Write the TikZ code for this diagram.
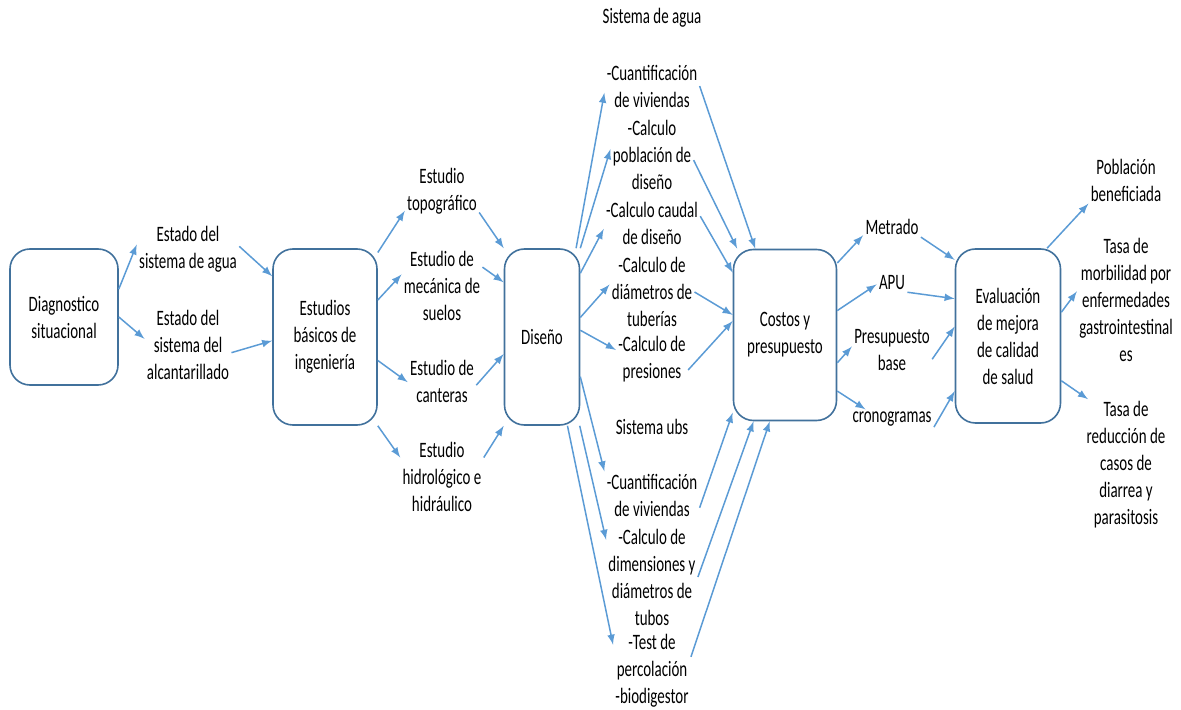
\documentclass[tikz,border=0pt]{standalone}
\usepackage{fontspec}
\setmainfont{Carlito}[FakeStretch=0.68]
\usetikzlibrary{arrows,positioning}
\definecolor{boxblue}{RGB}{65,113,156}
\definecolor{arrowblue}{RGB}{91,155,213}

\begin{document}
\begin{tikzpicture}[x=0.5pt,y=-0.5pt]
    \tikzset{
        box/.style = {rectangle, draw=boxblue, fill=white, line width=0.8pt, rounded corners=10pt, align=center, font=\fontsize{11}{13.5}\selectfont},
        txt/.style = {align=center, inner sep=1pt, font=\fontsize{11}{13.5}\selectfont},
        line/.style = {draw=arrowblue, line width=0.75pt, -latex},
    }
    \useasboundingbox (0,0) rectangle (1181,710);

    \node[box, minimum width=54pt, minimum height=68pt](diag) at (64,317){Diagnostico\\situacional};

    \node[txt](ea) at (188,249){Estado del\\sistema de agua};

    \node[txt](ealc) at (188,345){Estado del\\sistema del\\alcantarillado};

    \node[box, minimum width=52pt, minimum height=88pt](est) at (325,337){Estudios\\básicos de\\ingeniería};

    \node[txt](topo) at (442,191){Estudio\\topográfico};

    \node[txt](meca) at (442,286){Estudio de\\mecánica de\\suelos};

    \node[txt](cant) at (442,381){Estudio de\\canteras};

    \node[txt](hidro) at (442,477){Estudio\\hidrológico e\\hidráulico};

    \node[box, minimum width=37.5pt, minimum height=88pt](dis) at (542,337){Diseño};

    \node[txt](sagua) at (652,18){Sistema de agua};

    \node[txt](cva) at (652,86){-Cuantificación\\de viviendas};

    \node[txt](pob) at (652,155){-Calculo\\población de\\diseño};

    \node[txt](cau) at (652,223){-Calculo caudal\\de diseño};

    \node[txt](dia) at (652,292){-Calculo de\\diámetros de\\tuberías};

    \node[txt](pre) at (652,359){-Calculo de\\presiones};

    \node[txt](subs) at (652,427){Sistema ubs};

    \node[txt](cvb) at (652,495){-Cuantificación\\de viviendas};

    \node[txt](dim) at (652,577){-Calculo de\\dimensiones y\\diámetros de\\tubos};

    \node[txt](test) at (652,671){-Test de\\percolación\\-biodigestor};

    \node[box, minimum width=51.5pt, minimum height=85.5pt](cos) at (785,335){Costos y\\presupuesto};

    \node[txt](met) at (892,227){Metrado};

    \node[txt](apu) at (892,283){APU};

    \node[txt](pres) at (892,350){Presupuesto\\base};

    \node[txt](cron) at (892,419){cronogramas};

    \node[box, minimum width=52.5pt, minimum height=87pt](eva) at (1008,336){Evaluación\\de mejora\\de calidad\\de salud};

    \node[txt](pobb) at (1126,180){Población\\beneficiada};

    \node[txt](morb) at (1126,300){Tasa de\\morbilidad por\\enfermedades\\gastrointestinal\\es};

    \node[txt](red) at (1126,465){Tasa de\\reducción de\\casos de\\diarrea y\\parasitosis};

    \path [line] (diag.27) -- (ea.175);
    \path [line] (diag.east) -- (ealc.172);
    \path [line] (ea.3) -- (est.131);
    \path [line] (ealc.-10) -- (est.184);

    \path [line] (est.58) -- (topo.208);
    \path [line] (est.35) -- (meca.164);
    \path [line] (est.-24) -- (cant.182);
    \path [line] (est.south east) -- (hidro.155);
    \path [line] (topo.-30) -- (dis.north west);
    \path [line] (meca.25) -- (dis.125);
    \path [line] (cant.-7) -- (dis.204);
    \path [line] (hidro.25) -- (dis.south west);

    \path [line] (dis.69) -- (cva.188);
    \path [line] (dis.north east) -- (pob.172);
    \path [line] (dis.59) -- (cau.187);
    \path [line] (dis.27) -- (dia.170);
    \path [line] (dis.10) -- (pre.166);
    \path [line] (dis.-46) -- (cvb.north west);
    \path [line] (dis.-67) -- (dim.141);
    \path [line] (dis.-74) -- (test.146);

    \path [line] (cva.east) -- (cos.109);
    \path [line] (pob.-7) -- (cos.119);
    \path [line] (cau.8) -- (cos.130);
    \path [line] (dia.east) -- (cos.159);
    \path [line] (pre.-17) -- (cos.165);
    \path [line] (cvb.-15) -- (cos.236);
    \path [line] (dim.east) -- (cos.250);
    \path [line] (test.20) -- (cos.260);

    \path [line] (cos.54) -- (met.196);
    \path [line] (cos.25) -- (apu.185);
    \path [line] (cos.-28) -- (pres.175);
    \path [line] (cos.-47) -- (cron.160);
    \path [line] (met.south east) -- (eva.125);
    \path [line] (apu.-31) -- (eva.145);
    \path [line] (pres.-13) -- (eva.170);
    \path [line] (cron.-11) -- (eva.226);

    \path [line] (eva.66) -- (pobb.south west);
    \path [line] (eva.24) -- (morb.170);
    \path [line] (eva.-40) -- (red.120);

\end{tikzpicture}
\end{document}
